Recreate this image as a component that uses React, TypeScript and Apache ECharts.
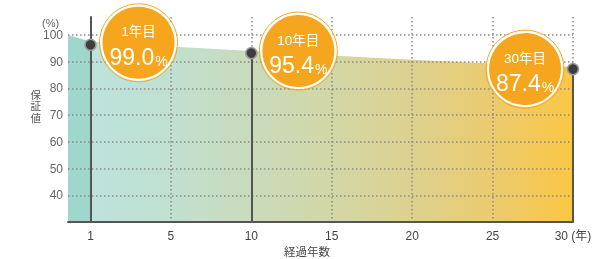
import React, { useEffect, useRef } from "react";
import * as echarts from "echarts";

// Stylised x axis: plot positions of the ticks and their labels
const xTickPos = [0, 5, 10, 15, 20, 25, 30];
const xTickLabels = ["1", "5", "10", "15", "20", "25", "30 (年)"];
const yTickValues = [40, 50, 60, 70, 80, 90, 100];

// Guaranteed-value band (position on axis, %)
const areaPos = [-1.4, 0, 5, 10, 15, 20, 25, 30];
const areaValues = [100, 97.5, 95.7, 94.0, 92.3, 90.7, 89.3, 88.0];

// Highlighted years
const markerPos = [0, 10, 30];
const markerValues = [96.3, 93.2, 87.2];
const markerTitles = ["1年目", "10年目", "30年目"];
const markerRates = ["99.0", "95.4", "87.4"];

const yTitleChars = ["保", "証", "値"];

const FONT = "'Liberation Sans', 'Noto Sans CJK JP', sans-serif";

export default function App() {
  const ref = useRef<HTMLDivElement>(null);

  useEffect(() => {
    if (!ref.current) return;
    const chart = echarts.init(ref.current, undefined, { renderer: "svg" });

    const areaData = areaPos.map((p, i) => [p, areaValues[i]]);
    const markerData = markerPos.map((p, i) => [p, markerValues[i]]);
    const bubbleOffsets = [
      [48, -2],
      [47, -2],
      [-48, 0],
    ];

    chart.setOption({
      animation: false,
      textStyle: { fontFamily: FONT },
      grid: { left: 68, right: 43, top: 17, bottom: 37, outerBoundsMode: "none", containLabel: false },
      xAxis: {
        type: "value",
        min: -1.4,
        max: 30,
        z: 3,
        axisLine: { show: true, onZero: false, lineStyle: { color: "#555", width: 2 } },
        axisTick: { show: false, customValues: xTickPos },
        axisLabel: {
          customValues: xTickPos,
          color: "#444",
          fontSize: 12,
          margin: 8,
          fontFamily: FONT,
          formatter: (v: number) => {
            const i = xTickPos.indexOf(v);
            return i >= 0 ? xTickLabels[i] : "";
          },
        },
        splitLine: { show: true, lineStyle: { color: "#8a8a8a", type: [1.5, 2.5], width: 1.5 } },
      },
      yAxis: {
        type: "value",
        min: 30,
        max: 106.7,
        z: 3,
        axisLine: { show: true, lineStyle: { color: "#555", width: 2 } },
        axisTick: { show: false, customValues: yTickValues },
        axisLabel: { customValues: yTickValues, color: "#666", fontSize: 12, margin: 5, fontFamily: FONT },
        splitLine: { show: true, lineStyle: { color: "#8a8a8a", type: [1.5, 2.5], width: 1.5 } },
      },
      graphic: [
        {
          type: "text",
          left: 42,
          top: 17,
          style: { text: "(%)", fill: "#666", fontSize: 11, fontFamily: FONT },
        },
        ...yTitleChars.map((ch, i) => ({
          type: "text",
          left: 30.5,
          top: 89.5 + i * 11.5,
          style: { text: ch, fill: "#555", fontSize: 10.5, fontFamily: FONT },
        })),
        {
          type: "text",
          left: 284,
          top: 246,
          style: { text: "経過年数", fill: "#444", fontSize: 11.5, fontFamily: FONT },
        },
      ],
      series: [
        {
          type: "line",
          data: areaData,
          showSymbol: false,
          silent: true,
          z: 1,
          lineStyle: { width: 0 },
          areaStyle: {
            opacity: 1,
            color: new echarts.graphic.LinearGradient(0, 0, 1, 0, [
              { offset: 0, color: "#9fd7cc" },
              { offset: 0.045, color: "#9fd7cc" },
              { offset: 0.047, color: "#bde3dc" },
              { offset: 0.2, color: "#c0e0d0" },
              { offset: 0.36, color: "#c9dbbc" },
              { offset: 0.52, color: "#d2d7a6" },
              { offset: 0.68, color: "#ddd190" },
              { offset: 0.84, color: "#ebcb6e" },
              { offset: 1, color: "#fbc744" },
            ]),
          },
        },
        {
          type: "scatter",
          data: markerData,
          z: 5,
          symbol: "circle",
          symbolSize: 11,
          itemStyle: { color: "#3d3d3d", borderColor: "#9a9a9a", borderWidth: 1.5, opacity: 1 },
          markLine: {
            silent: true,
            symbol: "none",
            label: { show: false },
            z: 4,
            lineStyle: { color: "#555", width: 2, type: "solid" },
            data: markerData.map((d) => [{ coord: [d[0], d[1]] }, { coord: [d[0], 30] }]),
          },
        },
        {
          type: "scatter",
          z: 6,
          silent: true,
          data: markerData.map((d, i) => ({ value: d, symbolOffset: bubbleOffsets[i] })),
          symbol: "circle",
          symbolSize: 78,
          itemStyle: { color: "rgba(0,0,0,0)", borderColor: "#f6a61e", borderWidth: 1, opacity: 1 },
        },
        {
          type: "scatter",
          z: 7,
          silent: true,
          data: markerData.map((d, i) => ({ value: d, symbolOffset: bubbleOffsets[i] })),
          symbol: "circle",
          symbolSize: 74,
          itemStyle: { color: "#f6a61e", borderColor: "#ffffff", borderWidth: 2, opacity: 1 },
          label: {
            show: true,
            position: "inside",
            offset: [0, 2],
            formatter: (p: any) => `{a|${markerTitles[p.dataIndex]}}\n{b|${markerRates[p.dataIndex]}}{c|%}`,
            rich: {
              a: { color: "#fff", fontSize: 13.5, lineHeight: 24, fontFamily: FONT, align: "center" },
              b: { color: "#fff", fontSize: 23, lineHeight: 26, fontFamily: FONT },
              c: { color: "#fff", fontSize: 14, lineHeight: 26, fontFamily: FONT, verticalAlign: "bottom", padding: [0, 0, 2, 1] },
            },
          },
        },
      ],
    });

    return () => chart.dispose();
  }, []);

  return <div ref={ref} style={{ position: "fixed", left: 0, top: 0, width: 616, height: 259 }} />;
}
